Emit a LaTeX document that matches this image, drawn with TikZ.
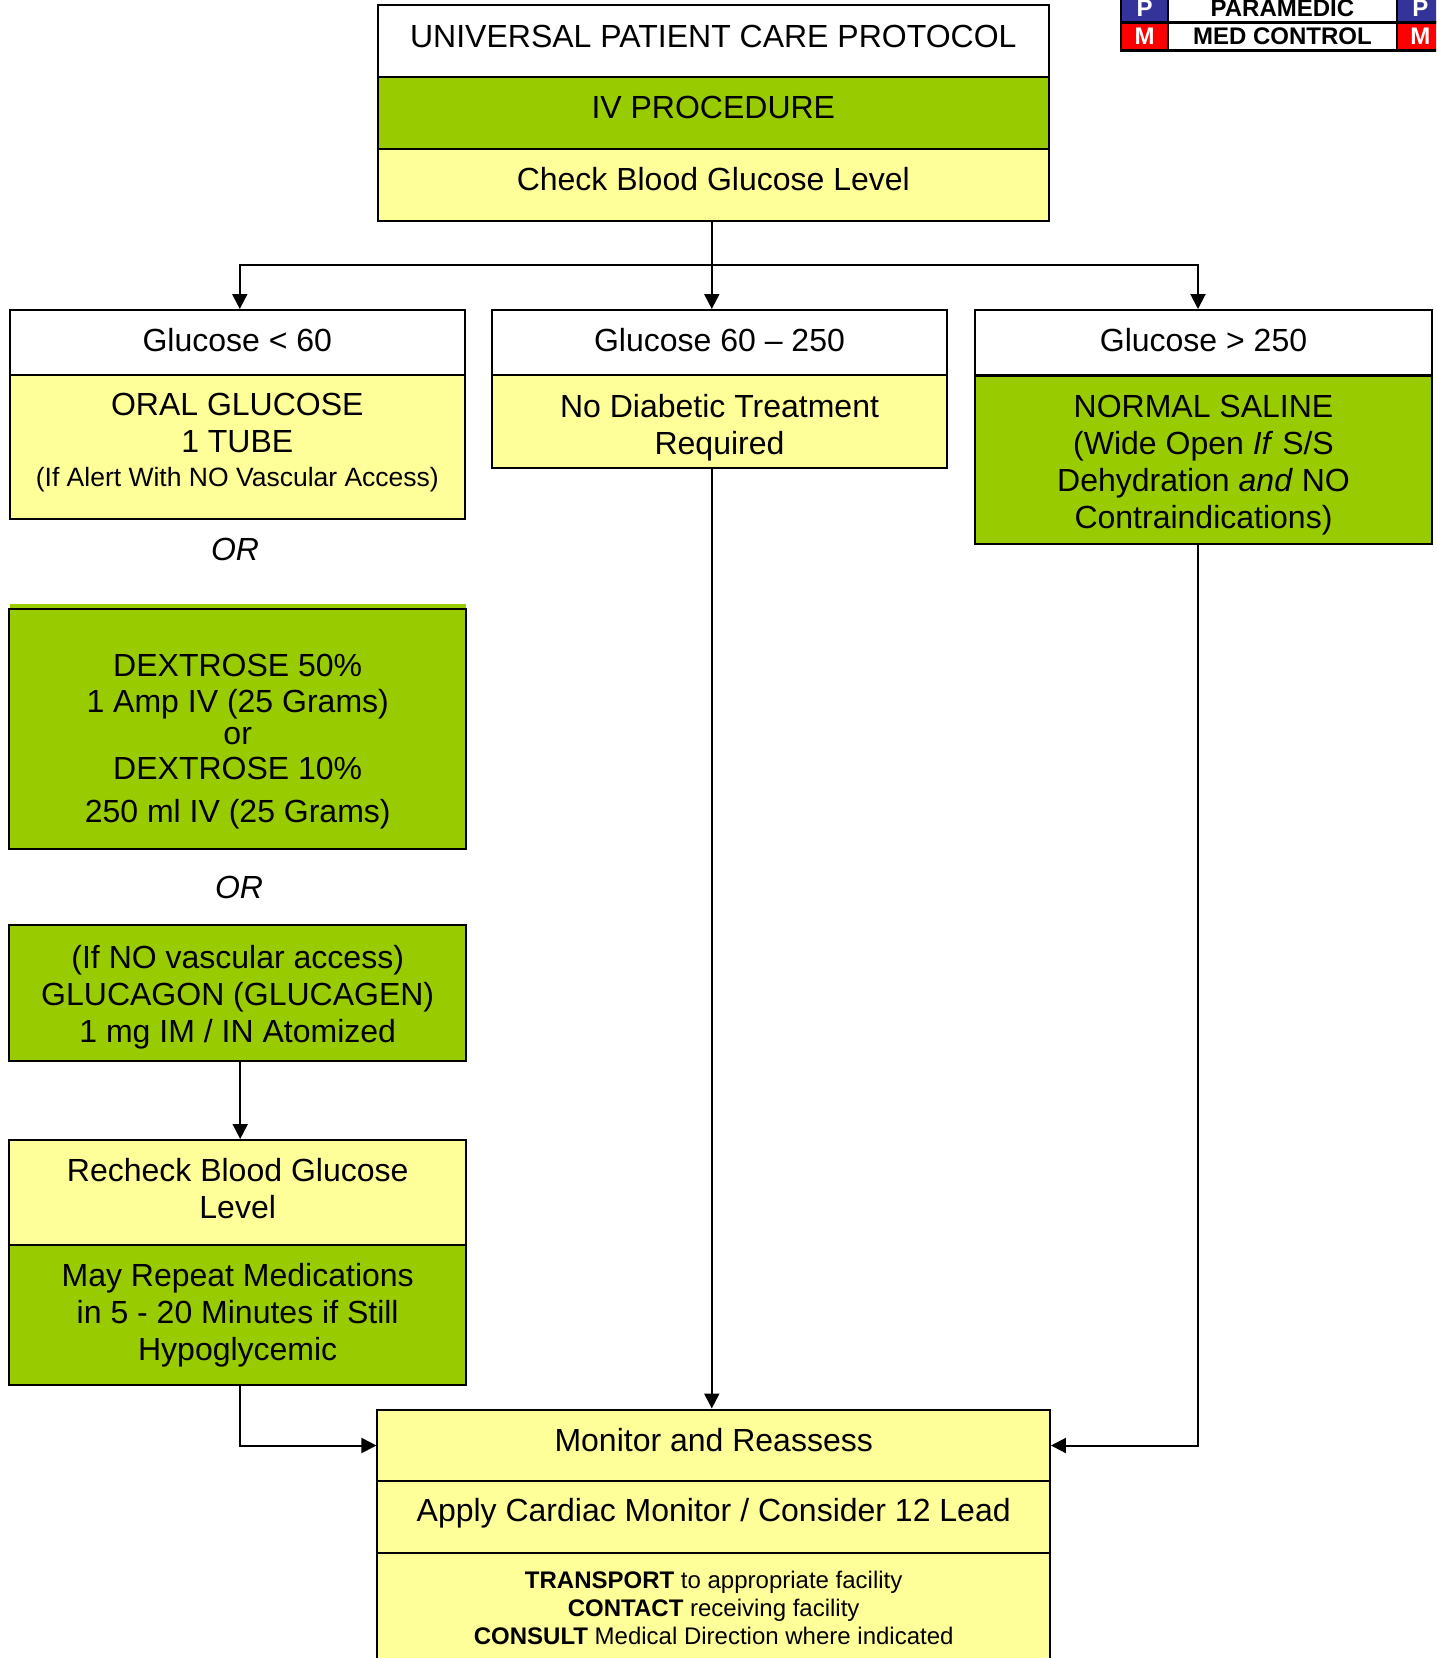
\documentclass[tikz,border=0pt]{standalone}
\usepackage{fontspec}
\setmainfont{Liberation Sans}
\usetikzlibrary{arrows.meta,positioning,calc}
\definecolor{rxgreen}{HTML}{99CC00}
\definecolor{rxyellow}{HTML}{FFFF99}
\definecolor{pblue}{HTML}{333399}
\definecolor{mred}{HTML}{FF0000}

\begin{document}
\begin{tikzpicture}[x=1pt, y=-1pt,
    cell/.style={draw, line width=2pt, align=center, inner sep=0pt, font=\fontsize{32}{37}\selectfont},
    hdr/.style={cell, fill=white},
    ybox/.style={cell, fill=rxyellow},
    gbox/.style={cell, fill=rxgreen},
    lift/.style={text height=23pt, text depth=#1},
    ortext/.style={font=\fontsize{32}{37}\selectfont\itshape},
    tag/.style={draw, line width=2.5pt, minimum height=28pt, inner sep=0pt, font=\fontsize{24}{28}\selectfont\bfseries},
    arr/.style={-{Triangle[length=15pt, width=15pt]}, line width=2pt},
]
    \useasboundingbox (0,0) rectangle (1436,1658);
    \clip (0,0) rectangle (1436,1658);

    % Legend
    \node[tag, fill=pblue, text=white, minimum width=47pt] (p1) at (1144.5,8) {P};
    \node[tag, fill=white, minimum width=228.7pt] (para) at (1282.4,8) {PARAMEDIC};
    \node[tag, fill=pblue, text=white, minimum width=47pt] (p2) at (1420.3,8) {P};
    \node[tag, fill=mred, text=white, minimum width=47pt] (m1) at (1144.5,36.7) {M};
    \node[tag, fill=white, minimum width=228.7pt] (medc) at (1282.4,36.7) {MED CONTROL};
    \node[tag, fill=mred, text=white, minimum width=47pt] (m2) at (1420.3,36.7) {M};

    % Header
    \node[hdr, lift=11pt, minimum width=671.5pt, minimum height=72pt] (title) at (713.3,41.3) {UNIVERSAL PATIENT CARE PROTOCOL};
    \node[gbox, lift=12pt, minimum width=671.5pt, minimum height=72pt] (ivproc) at (713.3,113.2) {IV PROCEDURE};
    \node[ybox, lift=12pt, minimum width=671.5pt, minimum height=72pt] (check) at (713.3,185) {Check Blood Glucose Level};

    % Glucose < 60
    \node[hdr, lift=6pt, minimum width=455.5pt, minimum height=65.4pt] (lowhead) at (237.3,342.7) {Glucose < 60};
    \node[ybox, minimum width=455.5pt, minimum height=143.6pt] (oral) at (237.3,447.2)
        {ORAL GLUCOSE\\1 TUBE\\[-3pt]{\fontsize{26.5}{30}\selectfont (If Alert With NO Vascular Access)\rule[-14pt]{0pt}{14pt}}};
    \node[ortext] (or1) at (235,549) {OR};
    \fill[rxgreen] (9.5,603.5) rectangle (466,610);
    \node[gbox, minimum width=456.5pt, minimum height=240pt] (dex) at (237.7,729)
        {\rule{0pt}{48pt}DEXTROSE 50\%\\[-1pt]1 Amp IV (25 Grams)\\[-5pt]or\\[-2pt]DEXTROSE 10\%\\[6pt]250 ml IV (25 Grams)};
    \node[ortext] (or2) at (239,887) {OR};
    \node[gbox, minimum width=456.5pt, minimum height=135.6pt] (glucagon) at (237.7,992.8)
        {\rule{0pt}{32pt}(If NO vascular access)\\GLUCAGON (GLUCAGEN)\\1 mg IM / IN Atomized};
    \node[ybox, minimum width=456.5pt, minimum height=104.6pt] (recheck) at (237.7,1192.3)
        {Recheck Blood Glucose\\Level\rule[-8.5pt]{0pt}{8.5pt}};
    \node[gbox, minimum width=456.5pt, minimum height=140.4pt] (repeat) at (237.7,1314.8)
        {May Repeat Medications\\in 5 - 20 Minutes if Still\\Hypoglycemic};

    % Glucose 60 - 250
    \node[hdr, lift=6pt, minimum width=455.7pt, minimum height=65.4pt] (midhead) at (719.5,342.7) {Glucose 60 – 250};
    \node[ybox, minimum width=455.7pt, minimum height=93pt] (nodiab) at (719.5,421.9)
        {\rule{0pt}{34pt}No Diabetic Treatment\\Required};

    % Glucose > 250
    \node[hdr, lift=6pt, minimum width=457pt, minimum height=65.4pt] (highhead) at (1203.5,342.7) {Glucose > 250};
    \node[gbox, minimum width=457pt, minimum height=168pt] (saline) at (1203.5,459.5)
        {\rule{0pt}{34pt}NORMAL SALINE\\(Wide Open \textit{If} S/S\\Dehydration \textit{and} NO\\Contraindications)};

    % Monitor
    \node[ybox, lift=11pt, minimum width=672.5pt, minimum height=72pt] (monitor) at (713.7,1445.5) {Monitor and Reassess};
    \node[ybox, lift=15pt, minimum width=672.5pt, minimum height=72pt] (cardiac) at (713.7,1517.4) {Apply Cardiac Monitor / Consider 12 Lead};
    \node[ybox, minimum width=672.5pt, minimum height=108.7pt, font=\fontsize{24}{28}\selectfont] (transport) at (713.7,1607.7)
        {\textbf{TRANSPORT} to appropriate facility\\\textbf{CONTACT} receiving facility\\\textbf{CONSULT} Medical Direction where indicated};

    % Arrows
    \coordinate (split) at ($(check.south)+(-1.5,43)$);
    \draw[line width=2pt] (check.south -| split) -- (split);
    \draw[arr] (split) -| ($(lowhead.north)+(2.5,0)$);
    \draw[arr] (split) -| ($(highhead.north)+(-5.5,0)$);
    \draw[arr] (split) -- (midhead.north -| split);
    \draw[arr] ($(glucagon.south)+(2.5,0)$) -- ($(recheck.north)+(2.5,0)$);
    \draw[arr] (nodiab.south -| split) -- (monitor.north -| split);
    \draw[arr] ($(repeat.south)+(2.5,0)$) |- (monitor.west);
    \draw[arr] ($(saline.south)+(-5.5,0)$) |- (monitor.east);
\end{tikzpicture}
\end{document}
